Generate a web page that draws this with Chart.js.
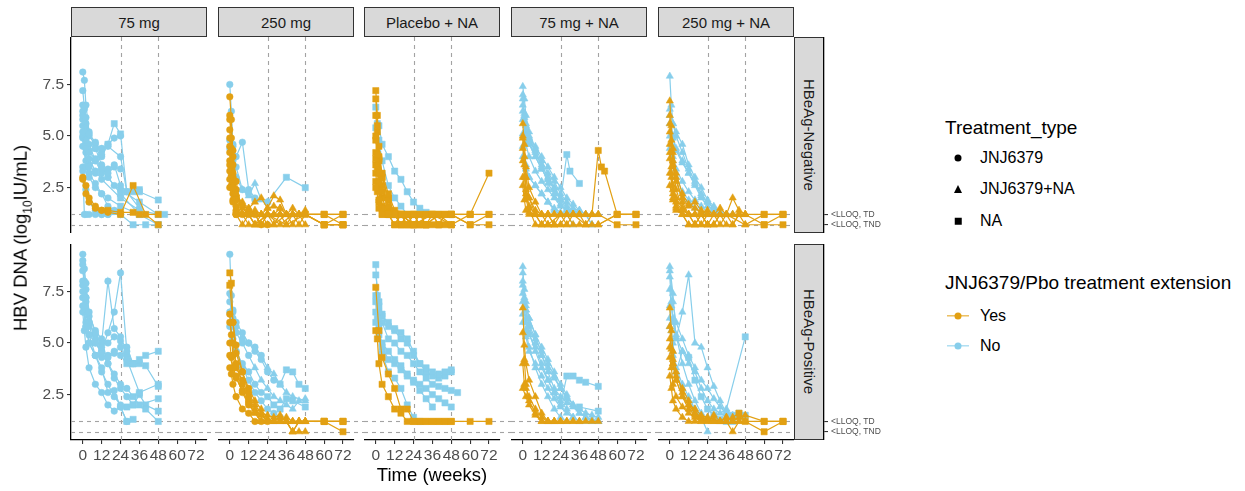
<!DOCTYPE html>
<html>
<head>
<meta charset="utf-8">
<script src="https://cdn.jsdelivr.net/npm/chart.js@4"></script>
<style>
  body { margin: 0; background: #fff; font-family: Arial, "Liberation Sans", sans-serif; }
  #fig { position: relative; width: 1245px; height: 491px; overflow: hidden; background: #fff; }
  #fig canvas { position: absolute; }
  .strip { position: absolute; box-sizing: border-box; background: #d9d9d9; border: 1px solid #333;
           display: flex; align-items: center; justify-content: center; font-size: 15px; color: #1a1a1a; }
  .strip.v { writing-mode: vertical-rl; }
  .txt { position: absolute; white-space: nowrap; transform: translateY(-50%); color: #000; }
  .key { position: absolute; transform: translate(-50%, -50%); }
</style>
</head>
<body>
<div id="fig"></div>
<script>
// facets
const arms = ['75 mg', '250 mg', 'Placebo + NA', '75 mg + NA', '250 mg + NA'];
const strata = ['HBeAg-Negative', 'HBeAg-Positive'];
const weekTicks = [0, 12, 24, 36, 48, 60, 72];
const dnaTicks = [2.5, 5.0, 7.5];
const refWeeks = [24, 48];
const lloqValues = [1.2, 0.7];
const lloqLabels = ['<LLOQ, TD', '<LLOQ, TND'];

// subject rows: [treatment extension, shape codes per visit (c=JNJ6379, t=JNJ6379+NA, s=NA; last repeats), weeks, log10 HBV DNA]
const neg75 = [
  ['No', 'cccccccs', [0,1,2,4,8,12,16,24,36], [8.1,7.7,6.5,5.2,4.4,3.6,3.0,2.2,1.2]],
  ['No', 'c', [0,1,2,4,8,12,16,20,24], [6.5,6.3,5.6,5.0,4.6,4.3,4.6,4.9,5.0]],
  ['No', 'cccccss', [0,2,4,8,12,16,20,24,28,36], [5.5,4.7,4.3,4.4,4.0,4.6,5.6,5.1,2.3,2.4]],
  ['No', 'cccccccccs', [0,1,2,4,8,12,16,20,24,36,48], [5.8,5.0,4.2,3.6,3.2,3.5,3.0,2.6,2.4,1.8,1.2]],
  ['No', 'ccccccs', [0,2,4,8,12,16,24,36,48], [4.9,3.8,3.2,2.7,2.2,2.0,1.6,1.2,0.7]],
  ['No', 'c', [0,2,4,8,12,16,24], [3.5,2.4,1.8,1.4,1.2,1.2,1.2]],
  ['No', 'cccccccccs', [0,2,4,8,12,16,20,24,28,32,36,48], [6.2,5.3,4.6,3.8,3.2,3.4,3.6,2.6,2.3,2.3,2.3,1.9]],
  ['No', 'c', [0,1,2,4,8,12,16,24], [3.3,1.2,1.2,1.2,1.2,1.2,1.2,1.2]],
  ['No', 'ccccccccs', [0,2,4,8,12,16,20,24,32,40,48], [5.0,3.5,3.0,2.5,2.2,1.6,1.4,1.2,0.7,0.7,0.7]],
  ['No', 'ccccccs', [0,1,2,4,8,12,24,36,48,52], [6.0,5.2,4.8,3.9,3.3,2.9,2.0,1.4,1.2,1.2]],
  ['No', 'c', [0,4,8,12,16,24,28,36], [4.5,3.5,3.8,4.4,4.5,4.0,2.3,1.5]],
  ['No', 'c', [0,2,4,8,12,16,20,24], [5.2,4.4,4.2,3.9,3.4,3.2,3.5,3.4]],
  ['No', 'c', [0,1,2,4,8,12], [7.2,6.4,5.9,5.1,4.7,4.1]],
  ['Yes', 'cccccs', [0,2,4,8,12,16,24,32,36,48], [3.0,2.2,1.8,1.5,1.4,1.4,1.3,1.3,1.2,1.2]],
  ['Yes', 'ccccccs', [0,2,4,8,12,16,24,32,40,48], [2.9,2.6,2.0,1.6,1.4,1.3,1.2,2.6,1.2,0.7]]
];
const neg250 = [
  ['No', 'c', [0,1,2,4,8,12,16], [7.5,6.2,4.5,4.0,4.7,2.4,2.0]],
  ['No', 'ccct', [0,2,4,8,12,16,20,24], [4.8,4.6,3.5,2.4,2.1,2.7,1.9,1.8]],
  ['No', 'cccccccs', [0,2,4,8,12,16,24,36,48], [4.4,3.8,3.0,2.4,2.2,1.9,1.8,3.0,2.5]],
  ['Yes', 'cccctttttttttttss', [0,1,2,4,8,12,16,20,24,28,32,36,40,44,48,60,72], [6.9,5.8,4.0,2.4,1.2,1.2,1.2,0.7,1.2,0.7,1.2,1.2,0.7,1.2,1.2,0.7,1.2]],
  ['Yes', 'cccctttttttttttss', [0,1,2,4,8,12,16,20,24,28,32,36,40,44,48,60,72], [5.3,4.4,3.0,1.9,1.5,1.2,1.4,1.2,1.2,1.2,1.5,1.2,1.2,0.7,1.2,1.2,1.2]],
  ['Yes', 'ccctttttttttttss', [0,2,4,8,12,16,20,24,28,32,36,40,44,48,60,72], [4.9,3.2,2.1,1.8,1.5,1.8,2.0,1.5,1.6,1.5,1.2,1.5,1.2,1.2,0.7,0.7]],
  ['Yes', 'cccctttttttss', [0,1,2,4,8,12,16,24,32,40,48,60,72], [4.5,3.6,2.5,1.2,0.7,1.2,0.7,1.2,0.7,1.2,1.2,0.7,0.7]],
  ['Yes', 'ccct', [0,2,4,8,12,16,20,24,28,32,36,40,44,48], [3.8,2.2,1.2,1.2,1.2,0.7,0.7,1.2,1.2,1.2,0.7,1.2,1.2,0.7]],
  ['Yes', 'cccctttttttss', [0,1,2,4,8,12,16,24,32,40,48,60,72], [3.3,2.6,1.9,1.4,1.2,1.4,1.2,1.2,1.2,1.2,1.2,1.2,1.2]],
  ['Yes', 'ccct', [0,2,4,8,12,16,20,24,28,36,44,48], [2.9,1.8,1.3,1.2,0.7,0.7,1.2,0.7,0.7,1.2,1.2,1.4]],
  ['Yes', 'cccct', [0,1,2,4,8,12,16,20,24,28,32,36,40,48], [4.2,3.1,2.8,2.0,1.7,1.4,1.2,1.2,1.5,2.1,1.9,1.2,1.2,1.2]],
  ['Yes', 'cccttttttss', [0,2,4,8,12,16,24,36,48,60,72], [6.0,4.3,2.8,1.2,1.2,0.7,1.2,0.7,1.2,1.2,0.7]],
  ['Yes', 'cct', [0,4,8,12,16,20,24,28,32,36,40,44,48], [2.5,1.2,1.2,1.2,1.2,1.2,1.2,1.2,1.2,1.2,1.2,1.2,1.2]],
  ['Yes', 'c', [0,2,4,8,12,16,20,24], [3.6,2.5,1.6,1.2,1.2,1.2,0.7,0.7]],
  ['Yes', 'ccctttttts', [0,1,2,4,8,12,16,20,24,48,60,72], [5.8,4.9,3.6,2.2,1.6,1.5,1.2,1.2,1.2,1.2,0.7,0.7]]
];
const negPboNA = [
  ['No', 's', [0,1,2,4,8,12,16,20,24,28,32,36,40,48], [6.4,5.6,5.5,4.6,4.0,3.3,2.9,2.3,1.8,1.5,1.3,1.2,1.2,1.2]],
  ['No', 's', [0,2,4,8,12,16,20,24], [5.4,4.8,3.8,2.6,2.0,1.6,1.2,1.2]],
  ['Yes', 's', [0,1,2,4,8,12,16,20,24,28,32,36,40,44,48,60,72], [7.2,6.0,4.5,3.0,1.9,1.2,1.2,0.7,1.2,1.2,0.7,1.2,1.2,1.2,1.2,1.2,3.2]],
  ['Yes', 's', [0,1,2,4,8,12,16,24,32,40,48,60,72], [6.0,5.2,3.8,2.6,1.5,1.2,1.2,0.7,0.7,1.2,1.2,0.7,1.2]],
  ['Yes', 's', [0,2,4,8,12,16,20,24,28,32,36,40,44,48], [4.8,3.9,3.0,2.0,1.2,0.7,0.7,0.7,0.7,0.7,0.7,0.7,0.7,0.7]],
  ['Yes', 's', [0,1,2,4,8,12,16,20,24,36,48,60,72], [4.2,3.5,2.6,1.6,1.2,1.2,1.2,1.2,1.2,1.2,1.2,0.7,0.7]],
  ['Yes', 's', [0,2,4,8,12,16,24,32,40,48], [3.6,2.8,2.0,1.2,0.7,1.2,0.7,0.7,1.2,0.7]],
  ['Yes', 's', [0,1,2,4,8,12,16,20,24,28,32], [3.2,2.3,1.8,1.5,1.2,1.2,0.7,1.2,1.2,0.7,0.7]],
  ['Yes', 's', [0,2,4,8,12,16,24,36,48], [2.8,1.5,1.2,1.2,1.2,1.2,0.7,1.2,1.2]],
  ['Yes', 's', [0,1,2,4,8,12,24,36,48,60,72], [6.8,5.5,4.0,3.2,2.2,1.4,1.2,1.2,0.7,1.2,1.2]],
  ['Yes', 's', [0,2,4,8,12,16,20,24,28,32,36,40,44,48], [3.9,2.7,1.5,1.2,0.7,1.2,0.7,1.2,0.7,1.2,1.2,0.7,1.2,1.2]],
  ['Yes', 's', [0,2,4,8,12,16], [2.5,1.9,1.2,1.2,1.2,1.2]],
  ['Yes', 's', [0,1,2,4,8,12,16,20,24,28,32,36,40,44,48,60], [5.0,4.1,3.2,2.3,1.6,1.2,0.7,1.2,0.7,1.2,1.2,1.2,0.7,1.2,1.2,1.2]]
];
const neg75NA = [
  ['No', 't', [0,1,2,4,8,12,16,20,24,28,32,36,40,44,48], [7.4,6.8,6.0,5.2,4.4,3.8,3.2,2.8,2.2,1.8,1.5,1.4,1.2,1.2,1.2]],
  ['No', 't', [0,1,2,4,8,12,16,20,24,28,32,36,40], [6.5,5.9,5.2,4.8,4.3,3.6,3.0,2.5,1.9,1.5,1.3,1.2,1.2]],
  ['No', 't', [0,2,4,8,12,16,20,24,28,32,36,40,44], [5.8,5.0,4.6,4.0,3.4,2.9,2.5,2.0,1.6,1.4,1.2,1.2,0.7]],
  ['No', 't', [0,2,4,8,12,16,20,24,28,32,36], [5.1,4.6,4.0,3.3,2.8,2.4,2.0,1.6,1.4,1.2,1.2]],
  ['No', 't', [0,1,2,4,8,12,16,20,24], [4.5,4.0,3.6,3.0,2.6,2.2,1.8,1.4,1.2]],
  ['No', 'tttttttts', [0,2,4,8,12,16,20,24,28,30,36], [6.2,5.3,4.7,4.0,3.4,2.9,2.4,1.9,4.1,3.3,2.7]],
  ['No', 't', [0,1,2,4,8,12,16,20,24,28,32,36,40,44], [7.0,6.1,5.5,4.9,4.5,4.0,3.5,3.0,2.5,2.0,1.7,1.4,1.2,0.7]],
  ['No', 't', [0,2,4,8,12,16,20,24,28,32], [4.0,3.4,3.0,2.6,2.2,1.8,1.5,1.3,1.2,0.7]],
  ['No', 't', [0,1,2,4,8,12,16,20,24,28], [6.8,6.0,5.6,5.0,4.2,3.5,2.7,2.2,1.7,1.4]],
  ['Yes', 'tttttttttttttttss', [0,1,2,4,8,12,16,20,24,28,32,36,40,44,48,60,72], [5.6,4.6,3.5,2.5,1.8,1.2,1.2,0.7,1.2,0.7,1.2,1.2,0.7,1.2,1.2,0.7,0.7]],
  ['Yes', 'tttttttttttttttss', [0,1,2,4,8,12,16,20,24,28,32,36,40,44,48,60,72], [5.0,4.0,3.0,2.0,1.4,1.2,0.7,0.7,0.7,1.2,0.7,0.7,0.7,0.7,0.7,1.2,1.2]],
  ['Yes', 'ttttttttttttts', [0,2,4,8,12,16,20,24,28,32,36,40,44,48,50,52,60,72], [4.4,3.0,2.0,1.2,1.2,1.2,1.2,1.2,1.2,1.2,1.2,1.2,1.2,4.3,3.5,3.3,1.2,1.2]],
  ['Yes', 't', [0,1,2,4,8,12,16,20,24,28,32,36,40,44,48], [3.8,3.0,2.2,1.6,1.2,1.2,1.2,1.2,1.2,1.2,1.2,1.2,1.2,1.2,1.2]],
  ['Yes', 'ttttttttttss', [0,2,4,8,12,16,24,32,40,48,60,72], [3.0,2.0,1.3,1.2,0.7,0.7,1.2,1.2,0.7,0.7,1.2,1.2]],
  ['Yes', 't', [0,1,2,4,8,12,16,20], [4.9,3.6,2.4,1.5,0.7,0.7,0.7,0.7]],
  ['Yes', 't', [0,1,2,4,8,12,16,20,24,28], [2.6,1.9,1.4,1.2,1.2,0.7,1.2,0.7,0.7,0.7]]
];
const neg250NA = [
  ['No', 't', [0,1,2,4,8,12,16,20,24,28,32,36], [7.9,6.5,5.6,5.0,4.2,3.4,2.8,2.2,1.8,1.5,1.3,1.2]],
  ['No', 't', [0,2,4,8,12,16,20,24,28,32,36,40], [6.3,5.6,5.2,4.6,3.6,3.0,2.5,1.9,1.6,1.3,1.2,1.2]],
  ['No', 't', [0,2,4,8,12,16,20,24,28,32,36], [5.6,4.9,4.3,3.7,3.2,2.6,2.0,1.6,1.4,1.2,1.2]],
  ['No', 't', [0,1,2,4,8,12,16,20,24,28], [5.0,4.6,4.0,3.4,2.8,2.3,1.9,1.6,1.3,1.2]],
  ['No', 't', [0,2,4,8,12,16,20,24], [4.4,3.8,3.0,2.3,1.9,1.5,1.3,1.2]],
  ['No', 't', [0,2,4,8,12,16,20,24,28,32,36,40], [6.0,5.0,4.4,3.8,3.2,2.7,2.1,1.8,1.5,1.3,1.2,1.2]],
  ['Yes', 'tttttttttttttttss', [0,1,2,4,8,12,16,20,24,28,32,36,40,44,48,60,72], [6.7,5.5,4.2,3.0,1.8,1.2,1.2,0.7,1.2,1.2,0.7,1.2,1.2,1.2,1.2,1.2,1.2]],
  ['Yes', 'tttttttttttttttss', [0,1,2,4,8,12,16,20,24,28,32,36,40,44,48,60,72], [6.0,4.8,3.6,2.4,1.5,1.2,0.7,0.7,0.7,0.7,1.2,0.7,0.7,1.2,0.7,0.7,0.7]],
  ['Yes', 'ttttttttttttttss', [0,2,4,8,12,16,20,24,28,32,36,40,44,48,60,72], [5.2,3.8,2.8,2.0,1.6,1.8,1.4,1.2,1.2,1.5,1.2,2.0,1.4,1.2,0.7,1.2]],
  ['Yes', 't', [0,1,2,4,8,12,16,20,24,28,32,36,40,44,48], [4.6,3.5,2.6,2.0,1.5,1.2,1.2,1.2,0.7,1.2,1.2,1.2,0.7,1.2,1.2]],
  ['Yes', 't', [0,1,2,4,8,12,16,20,24,28,32], [3.9,3.0,2.2,1.6,1.2,1.2,0.7,1.2,0.7,0.7,1.2]],
  ['Yes', 'ttttttttttss', [0,2,4,8,12,16,20,24,36,48,60,72], [3.2,2.4,1.8,1.4,1.2,1.2,1.2,1.2,1.2,0.7,1.2,1.2]],
  ['Yes', 't', [0,2,4,8,12,16,20,24,28], [2.6,1.9,1.5,1.2,0.7,0.7,1.2,0.7,0.7]],
  ['Yes', 't', [0,1,2,4,8,12,16], [4.2,3.2,2.0,1.4,1.2,0.7,0.7]],
  ['Yes', 't', [0,2,4,8,12,16,20,24,28,32,36,40,44,48], [5.6,4.4,3.2,2.2,1.7,1.5,1.3,1.4,1.2,1.2,1.2,1.2,1.2,1.2]]
];
const pos75 = [
  ['No', 'c', [0,1,2,4,8,12,16,20,24,28,32], [9.3,8.6,7.6,6.3,5.6,5.2,5.0,5.3,5.1,4.8,4.0]],
  ['No', 'ccccccccccs', [0,1,2,4,8,12,16,20,24,28,32,36], [8.8,8.0,7.2,6.0,5.4,5.0,8.0,5.7,5.3,4.4,4.0,4.0]],
  ['No', 'cccccccccss', [0,2,4,8,12,16,20,24,28,32,40,48], [8.0,7.0,5.8,5.0,4.6,5.5,6.5,8.4,4.6,4.0,3.9,2.9]],
  ['No', 'cccccccccsss', [0,1,2,4,8,12,16,20,24,28,32,36,40,48], [7.2,6.5,5.8,5.0,4.4,4.3,4.4,4.6,4.4,4.0,4.0,4.2,4.4,4.6]],
  ['No', 'ccccccccss', [0,2,4,8,12,16,20,24,28,32,36,40,48], [7.8,6.6,5.4,4.4,3.6,3.0,2.4,2.0,1.9,2.0,2.5,2.0,1.7]],
  ['No', 'c', [0,1,2,4,8,12,16,20,24,28], [6.5,5.6,4.8,3.8,3.0,2.6,2.0,1.7,1.9,1.2]],
  ['No', 'cccccccccs', [0,2,4,8,12,16,20,24,28,32,40,48], [8.5,7.2,6.0,5.2,4.6,4.0,3.3,2.8,2.4,2.0,1.8,1.2]],
  ['No', 'ccccccccccs', [0,1,2,4,8,12,16,20,24,28,32,36,48], [7.5,6.8,6.0,5.4,5.0,4.5,4.0,3.5,3.0,2.8,2.4,2.0,2.3]],
  ['No', 'cccccccccs', [0,2,4,8,12,16,20,24,28,36,48], [9.0,7.9,6.5,5.5,4.8,4.3,4.5,4.8,4.2,2.6,3.0]],
  ['No', 'ccccccccs', [0,2,4,8,12,16,20,24,28,32], [6.8,5.8,5.0,4.4,3.8,2.6,2.7,1.9,1.2,1.3]]
];
const pos250 = [
  ['No', 'ccccccccccs', [0,1,2,4,8,12,16,20,24,28,32,36,40,44,48], [9.3,7.3,6.5,6.0,5.5,5.0,4.6,4.2,3.6,3.2,3.0,3.7,3.6,3.0,2.8]],
  ['No', 'ccccccct', [0,2,4,8,12,16,20,24,28,32,36,40,48], [7.4,6.6,5.8,5.2,5.0,4.8,4.4,3.8,3.5,3.0,2.6,2.4,2.2]],
  ['No', 'ccccccccs', [0,1,2,4,8,12,16,20,24,28,32,36,40,48], [6.5,5.8,5.0,4.6,4.0,3.6,3.0,2.6,2.4,2.0,1.8,2.3,2.2,1.9]],
  ['No', 'ccccct', [0,2,4,8,12,16,20,24,28,32,36,40,44,48], [7.0,6.2,5.5,5.0,4.4,3.8,3.2,2.8,2.4,2.2,2.0,1.8,2.2,2.3]],
  ['No', 'c', [0,2,4,8,12,16,20,24,28,32], [5.8,5.2,4.6,3.8,3.2,2.6,2.2,1.8,1.6,1.4]],
  ['Yes', 'sscccctttttttttss', [0,1,2,4,8,12,16,20,24,28,32,36,40,44,48,60,72], [8.4,7.9,6.0,4.5,3.6,2.8,2.2,1.8,1.3,1.2,1.2,1.2,1.2,1.2,1.2,1.2,1.2]],
  ['Yes', 'cccccct', [0,1,2,4,8,12,16,20,24,28,32,36,40,44,48], [6.4,5.4,4.4,3.8,3.2,2.4,1.8,1.5,1.2,1.2,1.4,1.2,0.7,1.2,1.2]],
  ['Yes', 'cccccttttttttts', [0,2,4,8,12,16,20,24,28,32,36,40,44,48,60,72], [6.0,5.0,4.0,3.0,2.2,1.7,1.5,1.3,1.2,1.2,1.4,1.2,1.2,1.2,1.2,0.7]],
  ['Yes', 'cccccct', [0,1,2,4,8,12,16,20,24,28,32,36,40,44,48], [5.0,4.3,3.8,3.3,2.7,2.1,1.6,1.2,1.2,1.2,1.2,1.2,0.7,0.7,0.7]],
  ['Yes', 'cccccttttttttts', [0,2,4,8,12,16,20,24,28,32,36,40,44,48,60,72], [4.4,3.8,3.4,2.6,2.0,1.6,1.2,1.2,1.2,1.2,1.2,1.2,1.2,1.2,1.2,1.2]],
  ['Yes', 'c', [0,1,2,4,8,12,16,20,24], [3.8,3.5,3.0,2.4,1.8,1.6,1.2,1.2,1.2]],
  ['Yes', 'sccccttttttttts', [0,2,4,8,12,16,20,24,28,32,36,40,44,48,60,72], [7.8,6.0,4.9,3.6,2.6,2.0,1.6,1.5,1.4,1.5,1.2,0.7,1.2,1.2,1.2,1.2]]
];
const posPboNA = [
  ['No', 's', [0,1,2,4,8,12,16,20,24,28,32,36,40,44,48], [8.8,7.3,6.8,6.3,6.0,5.6,5.2,5.0,4.4,4.0,3.6,3.4,3.3,3.4,3.6]],
  ['No', 's', [0,2,4,8,12,16,20,24,28,32,36,40,44,48], [8.3,7.0,6.4,5.8,5.7,5.5,5.2,4.6,4.0,3.8,3.6,3.5,3.6,3.7]],
  ['No', 's', [0,2,4,8,12,16,20,24,28,32,36,40,44,48,52], [7.3,6.5,6.0,5.2,5.0,4.6,4.4,4.0,3.6,3.3,3.0,2.9,2.8,2.7,2.6]],
  ['No', 's', [0,1,2,4,8,12,16,20,24,28,32,36,40,44,48], [7.0,6.2,5.8,4.8,4.2,4.0,3.7,3.4,3.2,3.0,2.8,2.5,2.3,2.1,1.9]],
  ['No', 's', [0,2,4,8,12,16,20,24,28], [6.5,5.6,4.5,3.6,3.3,2.8,2.0,1.4,1.2]],
  ['No', 's', [0,2,4,8,12,16,20,24,28,32,36], [6.0,5.4,5.0,4.6,4.2,3.9,3.5,3.1,2.7,2.3,1.9]],
  ['Yes', 's', [0,2,4,8,12,16,20,24,28,32,36,40,44,48,60,72], [7.7,5.6,4.3,3.5,2.8,1.8,1.8,1.2,1.2,1.2,1.2,1.2,1.2,1.2,1.2,1.2]],
  ['Yes', 's', [0,1,2,4,8,12,16,20,24,28,32,36,40,44,48], [5.6,5.2,4.0,3.0,2.4,1.8,1.6,1.2,1.2,1.2,1.2,1.2,1.2,1.2,1.2]]
];
const pos75NA = [
  ['No', 't', [0,1,2,4,8,12,16,20,24,28,32,36,40,44,48], [8.7,7.2,6.8,6.2,5.4,4.8,4.2,3.6,3.0,2.5,2.0,1.6,1.4,1.2,1.2]],
  ['No', 't', [0,1,2,4,8,12,16,20,24,28,32,36,40,44,48], [8.4,7.6,6.6,5.8,5.0,4.4,3.8,3.3,2.8,2.4,2.0,1.8,1.6,1.5,1.4]],
  ['No', 't', [0,2,4,8,12,16,20,24,28,32,36,40,44,48], [7.8,6.6,5.9,5.2,4.6,4.0,3.4,2.8,2.3,1.9,1.6,1.4,1.3,1.2]],
  ['No', 'ttttttttsssss', [0,2,4,8,12,16,20,24,28,32,36,40,48], [7.0,6.2,5.5,4.6,3.8,3.2,2.6,2.0,3.4,3.4,3.2,3.1,2.9]],
  ['No', 't', [0,2,4,8,12,16,20,24,28], [6.4,5.6,4.8,3.8,3.0,2.4,1.8,1.4,1.2]],
  ['No', 't', [0,1,2,4,8,12,16,20,24,28,32,36], [7.4,6.8,6.0,5.4,4.8,4.0,3.2,2.6,2.2,1.8,1.4,1.2]],
  ['No', 't', [0,2,4,8,12,16,20,24,28,32,36,40,44,48], [6.0,5.3,4.6,4.0,3.4,2.8,2.3,1.9,1.6,1.4,1.2,1.2,1.2,1.2]],
  ['No', 'ttttttttts', [0,2,4,8,12,16,20,24,28,36,48], [8.0,7.0,6.2,5.4,4.4,3.6,2.8,2.4,2.1,1.9,1.7]],
  ['Yes', 't', [0,1,2,4,8,12,16,20,24,28,32,36,40,44,48], [6.7,4.9,4.0,3.2,2.4,1.6,1.2,1.2,1.2,1.2,1.2,1.2,1.2,1.2,1.2]],
  ['Yes', 't', [0,1,2,4,8,12,16,20,24], [5.5,4.2,3.0,2.2,1.6,1.2,1.2,1.2,1.2]],
  ['Yes', 't', [0,1,2,4,8,12,16,20,24,28,32,36], [4.0,3.0,2.8,2.4,1.8,1.4,1.2,1.2,1.2,1.2,1.2,1.2]],
  ['Yes', 't', [0,2,4,8,12,16,20], [2.8,2.4,2.0,1.5,1.2,1.2,1.2]]
];
const pos250NA = [
  ['No', 't', [0,2,4,8,12,16,20,24,28,32,36,40,44], [8.7,7.4,5.2,6.5,8.3,5.0,4.8,3.8,2.9,2.2,1.6,1.5,1.4]],
  ['No', 'tttttttttttts', [0,1,2,4,8,12,16,20,24,28,32,36,48], [7.6,6.8,6.0,5.3,4.6,4.0,3.6,2.8,2.2,1.8,1.6,1.8,5.3]],
  ['No', 'ttttttttttsss', [0,2,4,8,12,16,20,24,28,32,36,40,44,48], [8.5,7.0,6.0,5.2,4.4,3.8,3.2,2.8,2.3,1.9,1.6,1.5,1.6,1.5]],
  ['No', 't', [0,2,4,8,12,16,20,24], [6.2,5.0,3.8,3.0,2.4,1.8,1.4,0.7]],
  ['No', 't', [0,1,2,4,8,12,16,20,24,28,32], [6.8,5.6,4.4,3.6,2.8,2.2,1.8,1.5,1.4,1.3,1.2]],
  ['No', 'ttttsss', [0,2,4,8,12,16,20,24,28,32,36,40], [5.8,4.6,3.6,4.6,4.3,3.2,2.4,1.8,1.5,1.3,1.2,1.2]],
  ['No', 't', [0,1,2,4,8,12,16,20], [8.2,7.0,6.2,5.4,4.0,3.0,2.2,1.6]],
  ['Yes', 'tttttttttttttttss', [0,1,2,4,8,12,16,20,24,28,32,36,40,44,48,60,72], [6.7,5.6,4.6,3.6,2.6,2.0,1.6,1.4,1.3,1.2,1.2,1.4,1.2,1.2,1.2,1.2,1.2]],
  ['Yes', 'tttttttttttttsss', [0,1,2,4,8,12,16,20,24,28,32,36,40,44,48,60,72], [5.8,4.7,4.0,3.2,2.4,1.8,1.5,1.3,1.2,1.5,1.2,1.2,1.4,1.6,1.2,0.7,1.2]],
  ['Yes', 't', [0,2,4,8,12,16,20,24,28,32,36,40,44,48], [4.8,4.0,3.4,2.8,2.2,1.6,1.4,1.3,1.2,1.2,1.2,0.7,1.2,1.2]],
  ['Yes', 't', [0,1,2,4,8,12,16,20,24,28,32,36], [4.3,3.8,3.0,2.4,1.9,1.6,1.4,1.2,1.3,1.2,1.2,1.2]],
  ['Yes', 'tttttttttttttts', [0,2,4,8,12,16,20,24,28,32,36,40,44,48,60,72], [5.2,4.2,3.2,2.4,2.0,1.8,1.5,1.4,1.3,1.2,1.4,1.2,1.4,1.5,1.2,1.2]],
  ['Yes', 't', [0,1,2,4,8,12,16,20,24], [3.4,2.8,2.2,1.8,1.4,1.2,1.2,1.2,1.2]]
];
const panels = [
  [neg75, neg250, negPboNA, neg75NA, neg250NA],
  [pos75, pos250, posPboNA, pos75NA, pos250NA]
];

// look
const extColor = { Yes: '#E2A013', No: '#87CEEB' };
const shapeOf = { c: 'circle', t: 'triangle', s: 'rect' };
const sizeOf = { circle: 3.3, triangle: 4.2, rect: 4.4 };
const colLeft = [71, 218, 364, 511, 658];
const rowTop = [37, 244];
const panelW = 136, panelH = 196;
const yAxisW = 50, xAxisH = 36;
const tickFont = { family: 'Arial, "Liberation Sans", sans-serif', size: 15.5 };

const fig = document.getElementById('fig');

function el(tag, cls, css, html) {
  const d = document.createElement(tag);
  if (cls) d.className = cls;
  Object.assign(d.style, css);
  if (html != null) d.innerHTML = html;
  fig.appendChild(d);
  return d;
}

function toDataset(s) {
  const [ext, codes, wk, val] = s;
  const col = extColor[ext];
  const styles = wk.map((_, i) => shapeOf[codes[Math.min(i, codes.length - 1)]]);
  return {
    data: wk.map((w, i) => ({ x: w, y: val[i] })),
    showLine: true,
    borderColor: col,
    backgroundColor: col,
    borderWidth: 1.2,
    pointStyle: styles,
    pointRadius: styles.map(st => sizeOf[st]),
    pointBackgroundColor: col,
    pointBorderColor: col,
    pointBorderWidth: 0.5
  };
}

// keep axes from adding label overhang around the plot area
function fixX(h) {
  return s => { s.height = h; s.paddingLeft = 0; s.paddingRight = 0; };
}
function fixY(w) {
  return s => { s.width = w; s.paddingTop = 0; s.paddingBottom = 0; };
}

const refLines = {
  id: 'refLines',
  beforeDatasetsDraw(chart) {
    const { ctx, chartArea: a, scales: { x, y } } = chart;
    ctx.save();
    ctx.strokeStyle = '#a3a3a3';
    ctx.lineWidth = 1.1;
    ctx.setLineDash([4, 4]);
    refWeeks.forEach(w => {
      const px = Math.round(x.getPixelForValue(w)) + 0.5;
      ctx.beginPath(); ctx.moveTo(px, a.top); ctx.lineTo(px, a.bottom); ctx.stroke();
    });
    lloqValues.forEach(v => {
      const py = Math.round(y.getPixelForValue(v)) + 0.5;
      ctx.beginPath(); ctx.moveTo(a.left, py); ctx.lineTo(chart.width, py); ctx.stroke();
    });
    ctx.restore();
  }
};

function makePanel(r, c) {
  const showY = c === 0, showX = r === 1;
  const padR = c < 4 ? colLeft[c + 1] - colLeft[c] - panelW : 0;
  const cv = document.createElement('canvas');
  const w = panelW + (showY ? yAxisW : 0) + padR;
  const h = panelH + (showX ? xAxisH : 0);
  cv.width = w; cv.height = h;
  cv.style.left = (colLeft[c] - (showY ? yAxisW : 0)) + 'px';
  cv.style.top = rowTop[r] + 'px';
  fig.appendChild(cv);
  new Chart(cv, {
    type: 'scatter',
    data: { datasets: panels[r][c].map(toDataset).reverse() },
    options: {
      responsive: false, animation: false, events: [],
      layout: { autoPadding: false, padding: { left: 0, right: padR, top: 0, bottom: 0 } },
      plugins: { legend: { display: false }, tooltip: { enabled: false } },
      scales: {
        x: {
          type: 'linear', min: -7.5, max: 79, display: showX,
          afterBuildTicks: s => { s.ticks = weekTicks.map(v => ({ value: v })); },
          afterFit: fixX(showX ? xAxisH : 0),
          grid: { drawOnChartArea: false, drawTicks: true, tickLength: 4, color: '#333', lineWidth: 1.1 },
          border: { color: '#000', width: 1.3 },
          ticks: { autoSkip: false, maxRotation: 0, color: '#4d4d4d', font: tickFont, padding: 2 }
        },
        y: {
          type: 'linear', min: 0.3, max: 9.8, display: showY,
          afterBuildTicks: s => { s.ticks = dnaTicks.map(v => ({ value: v })); },
          afterFit: fixY(showY ? yAxisW : 0),
          grid: { drawOnChartArea: false, drawTicks: true, tickLength: 4, color: '#333', lineWidth: 1.1 },
          border: { color: '#000', width: 1.3 },
          ticks: { color: '#4d4d4d', font: tickFont, padding: 3, callback: v => v.toFixed(1) }
        }
      }
    },
    plugins: [refLines]
  });
}

// right-hand strips with the LLOQ axis
function makeSideAxis(r) {
  const stripW = 30, axisW = 80;
  const left = colLeft[4] + panelW;
  el('div', 'strip v', { left: left + 'px', top: rowTop[r] + 'px', width: stripW + 'px', height: panelH + 'px' }, strata[r]);
  const cv = document.createElement('canvas');
  cv.width = stripW + axisW; cv.height = panelH;
  cv.style.left = left + 'px'; cv.style.top = rowTop[r] + 'px';
  fig.appendChild(cv);
  new Chart(cv, {
    type: 'scatter',
    data: { datasets: [] },
    options: {
      responsive: false, animation: false, events: [],
      layout: { autoPadding: false, padding: 0 },
      plugins: { legend: { display: false }, tooltip: { enabled: false } },
      scales: {
        x: { type: 'linear', min: 0, max: 1, display: false, afterFit: fixX(0) },
        y: {
          type: 'linear', position: 'right', min: 0.3, max: 9.8,
          afterBuildTicks: s => { s.ticks = lloqValues.map(v => ({ value: v })); },
          afterFit: fixY(axisW),
          grid: { drawOnChartArea: false, drawTicks: true, tickLength: 4, color: '#333', lineWidth: 1.1 },
          border: { color: '#000', width: 1.3 },
          ticks: { color: '#4d4d4d', font: { family: tickFont.family, size: 8.5 }, padding: 3,
                   callback: v => lloqLabels[lloqValues.indexOf(v)] }
        }
      }
    }
  });
}

// top strips
arms.forEach((a, c) => {
  el('div', 'strip', { left: colLeft[c] + 'px', top: '7px', width: panelW + 'px', height: '30px' }, a);
});
[0, 1].forEach(r => {
  makeSideAxis(r);
  [0, 1, 2, 3, 4].forEach(c => makePanel(r, c));
});

// axis titles
el('div', 'txt', { left: '432px', top: '475px', fontSize: '18.5px', transform: 'translate(-50%,-50%)' }, 'Time (weeks)');
el('div', 'txt', { left: '22px', top: '238px', fontSize: '18.5px', transform: 'translate(-50%,-50%) rotate(-90deg)' },
   'HBV DNA (log<sub style="font-size:12px">10</sub>IU/mL)');

// legends
const legendTypes = ['JNJ6379', 'JNJ6379+NA', 'NA'];
const legendTypeY = [158, 189, 221];
const legendExt = ['Yes', 'No'];
const legendExtY = [316, 346];
el('div', 'txt', { left: '945px', top: '128px', fontSize: '19px' }, 'Treatment_type');
legendTypes.forEach((t, i) => {
  const y = legendTypeY[i];
  const css = [
    { width: '7px', height: '7px', borderRadius: '50%', background: '#000' },
    { width: 0, height: 0, borderLeft: '4.5px solid transparent', borderRight: '4.5px solid transparent', borderBottom: '8px solid #000' },
    { width: '6.5px', height: '6.5px', background: '#000' }
  ][i];
  el('div', 'key', Object.assign({ left: '958px', top: y + 'px' }, css));
  el('div', 'txt', { left: '980px', top: y + 'px', fontSize: '16px' }, t);
});
el('div', 'txt', { left: '945px', top: '283px', fontSize: '19px' }, 'JNJ6379/Pbo treatment extension');
legendExt.forEach((e, i) => {
  const y = legendExtY[i];
  el('div', 'key', { left: '958px', top: y + 'px', width: '22px', height: '1.3px', background: extColor[e] });
  el('div', 'key', { left: '958px', top: y + 'px', width: '7px', height: '7px', borderRadius: '50%', background: extColor[e] });
  el('div', 'txt', { left: '980px', top: y + 'px', fontSize: '16px' }, e);
});
</script>
</body>
</html>
